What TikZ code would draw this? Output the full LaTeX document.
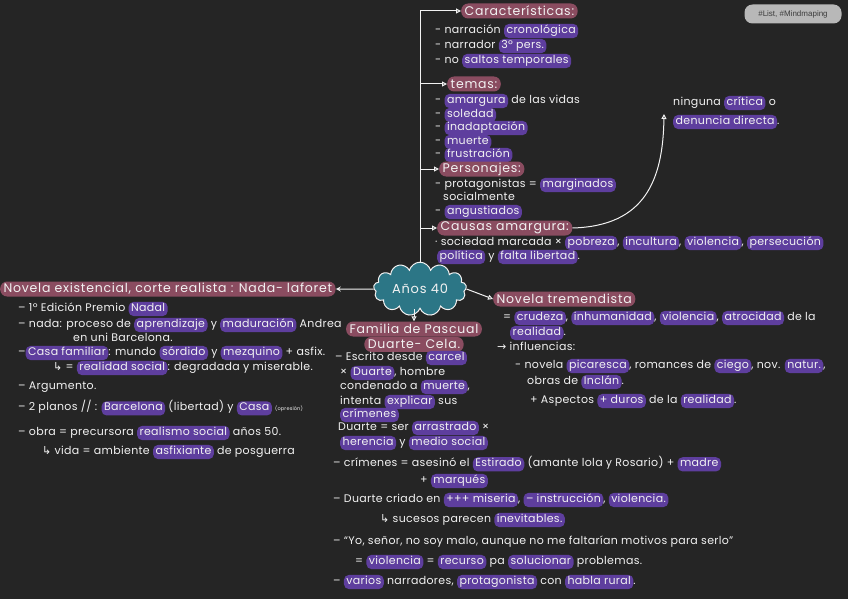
\documentclass[tikz,border=0pt]{standalone}
\usepackage{fontspec}
\setmainfont{Poppins}[LetterSpace=3]
\newfontfamily\hdfont{Poppins}[LetterSpace=6]
\newfontfamily\symfont{DejaVu Sans}
\newfontfamily\tagfont{Liberation Sans}
\usetikzlibrary{positioning, arrows.meta, shapes.symbols, backgrounds}

\definecolor{bgdark}{RGB}{37,37,37}
\definecolor{hlpurple}{RGB}{94,62,158}
\definecolor{hdrose}{RGB}{138,76,96}
\definecolor{cloudteal}{RGB}{44,118,134}
\definecolor{taggray}{RGB}{184,184,184}
\definecolor{tagtext}{RGB}{60,60,60}
\definecolor{chalk}{RGB}{242,242,242}

\tikzset{
  hlbox/.style={fill=hlpurple, rounded corners=5pt, inner xsep=2.5pt,
    inner ysep=0.8pt, text=chalk},
}
\newcommand{\hl}[1]{\tikz[baseline=(hw.base)]\node[hlbox] (hw) {\strut #1};}
\newcommand{\subarrow}{{\symfont ↳}}

\begin{document}
\begin{tikzpicture}[x=1pt, y=-1pt,
  font=\fontsize{11}{12.6}\selectfont,
  txt/.style={anchor=west, inner sep=0pt, text=chalk, execute at begin node=\strut},
  header/.style={anchor=west, fill=hdrose, rounded corners=7pt, inner xsep=3.5pt,
    inner ysep=1pt, minimum height=15pt, text=chalk, font=\hdfont\fontsize{12.5}{14}\selectfont},
  branch/.style={draw=chalk, line width=1pt, -{Triangle[open, length=5pt, width=5pt]}},
  tag/.style={fill=taggray, rounded corners=8pt, text=tagtext, minimum width=97pt,
    minimum height=19pt, font=\tagfont\fontsize{8}{9}\selectfont},
]
  \fill[bgdark] (0,0) rectangle (848,599);
  \useasboundingbox (0,0) rectangle (848,599);

  \node[tag] (tag) at (793,14) {\#List, \#Mindmaping};

  % Central cloud
  \node[cloud, cloud puffs=13, aspect=2.3, fill=cloudteal, draw=chalk, line width=1pt,
    minimum width=76pt, minimum height=33pt, text=chalk,
    font=\hdfont\fontsize{13}{15}\selectfont] (anos) at (420,289) {Años 40};

  % Upper branch
  \node[header] (carac) at (461,11) {Características:};
  \node[txt] (c1) at (435,31) {- narración \hl{cronológica}};
  \node[txt] (c2) at (435,46) {- narrador \hl{3º pers.}};
  \node[txt] (c3) at (435,61) {- no \hl{saltos temporales}};

  \node[header] (temas) at (447,84) {temas:};
  \node[txt] (t1) at (435,101) {- \hl{amargura} de las vidas};
  \node[txt] (t2) at (435,115) {- \hl{soledad}};
  \node[txt] (t3) at (435,128) {- \hl{inadaptación}};
  \node[txt] (t4) at (435,142) {- \hl{muerte}};
  \node[txt] (t5) at (435,155) {- \hl{frustración}};

  \node[header] (perso) at (439,169) {Personajes:};
  \node[txt] (p1) at (435,185) {- protagonistas = \hl{marginados}};
  \node[txt] (p2) at (443,198) {socialmente};
  \node[txt] (p3) at (435,212) {- \hl{angustiados}};

  \node[header] (causas) at (437,228) {Causas amargura:};
  \node[txt] (k1) at (435,243) {· sociedad marcada × \hl{pobreza}, \hl{incultura}, \hl{violencia}, \hl{persecución}};
  \node[txt] (k2) at (437,257) {\hl{política} y \hl{falta libertad}.};

  \node[txt] (ning1) at (673,103) {ninguna \hl{crítica} o};
  \node[txt] (ning2) at (673,122) {\hl{denuncia directa}.};
  \coordinate (ningtip) at (664,114);

  \foreach \h in {carac, temas, perso, causas} \draw[branch] (anos.north) |- (\h.west);
  \draw[branch] (causas.east) .. controls (645,226) and (663,180) .. (ningtip);

  % Left branch
  \node[header] (exist) at (0,289) {Novela existencial, corte realista : Nada- laforet};
  \node[txt] (e1) at (18,309) {– 1º Edición Premio \hl{Nadal}};
  \node[txt] (e2) at (18,325) {– nada: proceso de \hl{aprendizaje} y \hl{maduración} Andrea};
  \node[txt] (e3) at (73,339) {en uni Barcelona.};
  \node[txt] (e4) at (18,353) {–\hl{Casa familiar}: mundo \hl{sórdido} y \hl{mezquino} + asfix.};
  \node[txt] (e5) at (53,368) {\subarrow{} = \hl{realidad social}: degradada y miserable.};
  \node[txt] (e6) at (18,387) {– Argumento.};
  \node[txt] (e7) at (18,408) {– 2 planos // : \hl{Barcelona} (libertad) y \hl{Casa} {\fontsize{5}{6}\selectfont(opresión)}};
  \node[txt] (e8) at (18,433) {– obra = precursora \hl{realismo social} años 50.};
  \node[txt] (e9) at (42,452) {\subarrow{} vida = ambiente \hl{asfixiante} de posguerra};
  \draw[draw=chalk, line width=1pt, -{Stealth[length=5pt, width=5pt]}] (anos.west) -- (exist.east);

  % Lower branch
  \node[header, anchor=center, minimum width=119pt] (famil) at (414,329) {Familia de Pascual};
  \node[header, below=0pt of famil, minimum width=79pt] (duarte) {Duarte- Cela.};
  \draw[branch] (famil.north |- anos.south) -- (famil.north);
  \node[txt] (m1) at (335,358) {– Escrito desde \hl{carcel}};
  \node[txt] (m2) at (340,373) {× \hl{Duarte}, hombre};
  \node[txt] (m3) at (340,387) {condenado a \hl{muerte},};
  \node[txt] (m4) at (340,402) {intenta \hl{explicar} sus};
  \node[txt] (m5) at (340,415) {\hl{crímenes}};
  \node[txt] (m6) at (338,428) {Duarte = ser \hl{arrastrado} ×};
  \node[txt] (m7) at (340,443) {\hl{herencia} y \hl{medio social}};
  \node[txt] (m8) at (333,464) {– crímenes = asesinó el \hl{Estirado} (amante lola y Rosario) + \hl{madre}};
  \node[txt] (m9) at (420,481) {+ \hl{marqués}};
  \node[txt] (m10) at (333,500) {– Duarte criado en \hl{+++ miseria}, \hl{– instrucción}, \hl{violencia.}};
  \node[txt] (m11) at (380,520) {\subarrow{} sucesos parecen \hl{inevitables.}};
  \node[txt] (m12) at (333,542) {– “Yo, señor, no soy malo, aunque no me faltarían motivos para serlo”};
  \node[txt] (m13) at (355,562) {= \hl{violencia} = \hl{recurso} pa \hl{solucionar} problemas.};
  \node[txt] (m14) at (333,582) {– \hl{varios} narradores, \hl{protagonista} con \hl{habla rural}.};

  % Right branch
  \node[header] (tremen) at (493,299) {Novela tremendista};
  \draw[branch] (anos.east) -- (tremen.west);
  \node[txt] (r1) at (503,318) {= \hl{crudeza}, \hl{inhumanidad}, \hl{violencia}, \hl{atrocidad} de la};
  \node[txt] (r2) at (510,333) {\hl{realidad}.};
  \node[txt] (r3) at (497,348) {{\symfont →} influencias:};
  \node[txt] (r4) at (515,366) {- novela \hl{picaresca}, romances de \hl{ciego}, nov. \hl{natur.},};
  \node[txt] (r5) at (527,382) {obras de \hl{Inclán}.};
  \node[txt] (r6) at (530,401) {+ Aspectos \hl{+ duros} de la \hl{realidad}.};
\end{tikzpicture}
\end{document}
